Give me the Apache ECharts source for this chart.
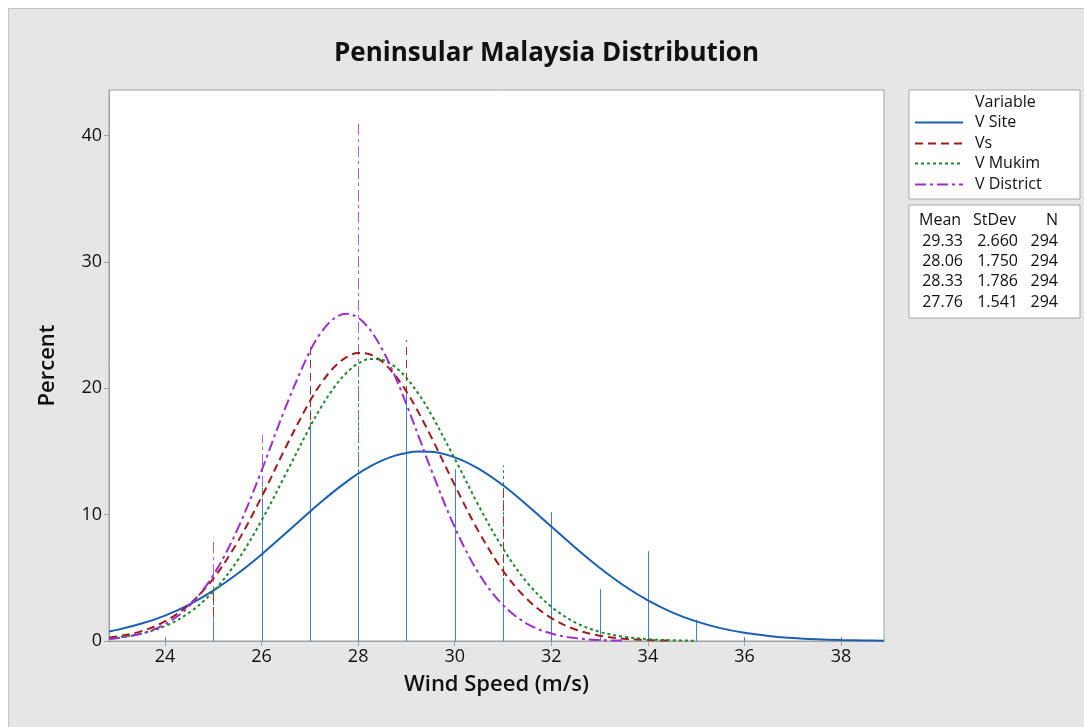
<!DOCTYPE html>
<html>
<head>
<meta charset="utf-8">
<script src="https://cdn.jsdelivr.net/npm/echarts@6/dist/echarts.min.js"></script>
<style>
  html, body { margin: 0; padding: 0; background: #ffffff; }
  #main { position: absolute; left: 8px; top: 8px; width: 1075px; height: 718px;
          border-left: 1px solid #c4c4c4; border-top: 1px solid #c4c4c4; background: #e6e6e6; }
</style>
</head>
<body>
<div id="main"></div>
<script>
// variables and fit stats
var varNames = ['V Site', 'Vs', 'V Mukim', 'V District'];
var varColors = ['#1b5fb0', '#a01c1c', '#1e8a2a', '#9b2fd0'];
var spikeColors = ['#3f7fcc', '#a82a2a', '#2a9a3c', '#b25ade'];
var means = ['29.33', '28.06', '28.33', '27.76'];
var stdevs = ['2.660', '1.750', '1.786', '1.541'];
var counts = ['294', '294', '294', '294'];

// histogram spikes (percent at each wind speed)
var histX = [24, 25, 26, 27, 28, 29, 30, 31, 32, 33, 34, 35, 36, 37, 38];
var siteHist     = [0.3, 1.7, 11.2, 17.0, 13.0, 19.7, 13.6, 4.8, 10.2, 4.1, 7.1, 1.7, 0.3, 0, 0.3];
var vsHist       = [0, 4.1, 8.0, 23.5, 13.3, 23.8, 9.2, 12.2, 0.7, 0, 0, 0, 0, 0, 0];
var mukimHist    = [0, 3.4, 12.2, 20.4, 21.8, 17.0, 8.2, 13.9, 2.0, 0, 0, 0, 0, 0, 0];
var districtHist = [0, 8.2, 16.3, 12.0, 41.2, 14.0, 6.5, 2.0, 0, 0, 0, 0, 0, 0, 0];

// fitted curves
var fitX = [22.84, 23, 23.5, 24, 24.5, 25, 25.5, 26, 26.5, 27, 27.25, 27.5, 27.75, 28, 28.25, 28.5, 28.75,
            29, 29.25, 29.5, 30, 30.5, 31, 31.5, 32, 32.5, 33, 33.5, 34, 34.5, 35, 35.5, 36, 36.5, 37,
            37.5, 38, 38.5, 38.89];
var siteFit = [0.76, 0.88, 1.36, 2.01, 2.88, 3.99, 5.32, 6.85, 8.52, 10.22, 11.05, 11.84, 12.57, 13.24, 13.81,
               14.29, 14.65, 14.88, 14.99, 14.97, 14.53, 13.62, 12.32, 10.75, 9.06, 7.37, 5.79, 4.39, 3.21,
               2.27, 1.55, 1.02, 0.65, 0.40, 0.23, 0.13, 0.07, 0.04, 0.02];
var vsFit = [0.27, 0.35, 0.76, 1.55, 2.88, 4.94, 7.82, 11.40, 15.33, 18.98, 20.48, 21.66, 22.44, 22.79, 22.67,
             22.09, 21.09, 19.74, 18.09, 16.25, 12.33, 8.63, 5.56, 3.30, 1.81, 0.91, 0.42, 0.18, 0.07, 0.03];
var mukimFit = [0.20, 0.26, 0.58, 1.18, 2.24, 3.92, 6.36, 9.54, 13.21, 16.93, 18.61, 20.05, 21.19, 21.96, 22.32,
                22.24, 21.73, 20.82, 19.56, 18.03, 14.43, 10.68, 7.31, 4.62, 2.71, 1.46, 0.73, 0.34, 0.14,
                0.06, 0.02];
var districtFit = [0.16, 0.22, 0.57, 1.32, 2.76, 5.21, 8.83, 13.49, 18.53, 22.93, 24.51, 25.52, 25.89, 25.58,
                   24.61, 23.07, 21.06, 18.73, 16.22, 13.68, 9.00, 5.33, 2.84, 1.36, 0.59, 0.23, 0.08, 0.03];

var xTicks = [24, 26, 28, 30, 32, 34, 36, 38];
var lineDashes = [null, [8, 5], [3, 3], [11, 4, 3, 4]];

var FONT = '"Open Sans", "Noto Sans", sans-serif';

function pairs(xs, ys) {
    var out = [];
    for (var i = 0; i < ys.length; i++) out.push([xs[i], ys[i]]);
    return out;
}

function spikeSeries(idx, vals) {
    return {
        type: 'custom',
        name: varNames[idx] + ' hist',
        data: pairs(histX, vals).filter(function (d) { return d[1] > 0; }),
        renderItem: function (params, api) {
            var p0 = api.coord([api.value(0), 0]);
            var p1 = api.coord([api.value(0), api.value(1)]);
            var x = Math.round(p0[0]) + 0.5;
            return {
                type: 'line',
                shape: { x1: x, y1: p0[1], x2: x, y2: p1[1] },
                style: { stroke: spikeColors[idx], lineWidth: 1, lineDash: lineDashes[idx] }
            };
        },
        silent: true,
        z: 2
    };
}

function fitSeries(idx, vals) {
    return {
        type: 'line',
        name: varNames[idx],
        data: pairs(fitX, vals),
        smooth: 0.35,
        showSymbol: false,
        lineStyle: { color: varColors[idx], width: 2, type: lineDashes[idx] || 'solid' },
        silent: true,
        z: 3
    };
}

// legend + stats boxes (right side)
var gx = 900;
var TXT = '500 16px ' + FONT;
var graphic = [
    { type: 'rect', shape: { x: gx, y: 81, width: 171, height: 109 },
      style: { fill: '#ffffff', stroke: '#a8a8a8', lineWidth: 1 } },
    { type: 'text', x: 966, y: 93, style: { text: 'Variable', font: TXT, fill: '#111', verticalAlign: 'middle' } },
    { type: 'rect', shape: { x: gx, y: 196, width: 171, height: 113 },
      style: { fill: '#ffffff', stroke: '#a8a8a8', lineWidth: 1 } },
    { type: 'text', x: 910, y: 211, style: { text: 'Mean', font: TXT, fill: '#111', verticalAlign: 'middle' } },
    { type: 'text', x: 964, y: 211, style: { text: 'StDev', font: TXT, fill: '#111', verticalAlign: 'middle' } },
    { type: 'text', x: 1049, y: 211, style: { text: 'N', font: TXT, fill: '#111', align: 'right', verticalAlign: 'middle' } }
];
var legY = [113, 134, 154, 175];
var rowY = [232, 252, 272, 293];
for (var i = 0; i < varNames.length; i++) {
    graphic.push({ type: 'line', shape: { x1: 906, y1: legY[i] + 0.5, x2: 954, y2: legY[i] + 0.5 },
                   style: { stroke: varColors[i], lineWidth: 2, lineDash: lineDashes[i] } });
    graphic.push({ type: 'text', x: 966, y: legY[i], style: { text: varNames[i], font: TXT,
                   fill: '#111', verticalAlign: 'middle' } });
    graphic.push({ type: 'text', x: 954, y: rowY[i], style: { text: means[i], font: TXT,
                   fill: '#111', align: 'right', verticalAlign: 'middle' } });
    graphic.push({ type: 'text', x: 1009, y: rowY[i], style: { text: stdevs[i], font: TXT,
                   fill: '#111', align: 'right', verticalAlign: 'middle' } });
    graphic.push({ type: 'text', x: 1049, y: rowY[i], style: { text: counts[i], font: TXT,
                   fill: '#111', align: 'right', verticalAlign: 'middle' } });
}

var chart = echarts.init(document.getElementById('main'));
chart.setOption({
    animation: false,
    backgroundColor: '#e6e6e6',
    title: {
        text: 'Peninsular Malaysia Distribution',
        left: 'center',
        top: 27,
        textStyle: { fontFamily: FONT, fontSize: 26, fontWeight: 'bold', color: '#111' }
    },
    grid: { left: 100, top: 81, width: 775, height: 551, show: true, backgroundColor: '#ffffff',
            borderColor: '#a0a0a0', borderWidth: 1 },
    xAxis: {
        type: 'value', min: 22.84, max: 38.89,
        name: 'Wind Speed (m/s)', nameLocation: 'middle', nameGap: 33,
        nameTextStyle: { fontFamily: FONT, fontSize: 22, fontWeight: 600, color: '#111' },
        axisLine: { lineStyle: { color: '#a0a0a0' } },
        axisTick: { length: 5, inside: false, customValues: xTicks, lineStyle: { color: '#a0a0a0' } },
        axisLabel: { customValues: xTicks, fontFamily: FONT, fontSize: 18, fontWeight: 500, color: '#111', margin: 7 },
        splitLine: { show: false }
    },
    yAxis: {
        type: 'value', min: 0, max: 43.6, interval: 10,
        name: 'Percent', nameLocation: 'middle', nameGap: 50,
        nameTextStyle: { fontFamily: FONT, fontSize: 22, fontWeight: 600, color: '#111' },
        axisLine: { show: true, lineStyle: { color: '#a0a0a0' } },
        axisTick: { show: true, length: 5, lineStyle: { color: '#a0a0a0' } },
        axisLabel: { fontFamily: FONT, fontSize: 18, fontWeight: 500, color: '#111', margin: 7,
                     showMaxLabel: false },
        splitLine: { show: false }
    },
    graphic: graphic,
    series: [
        spikeSeries(3, districtHist),
        spikeSeries(2, mukimHist),
        spikeSeries(1, vsHist),
        spikeSeries(0, siteHist),
        fitSeries(0, siteFit),
        fitSeries(1, vsFit),
        fitSeries(2, mukimFit),
        fitSeries(3, districtFit)
    ]
});
</script>
</body>
</html>
